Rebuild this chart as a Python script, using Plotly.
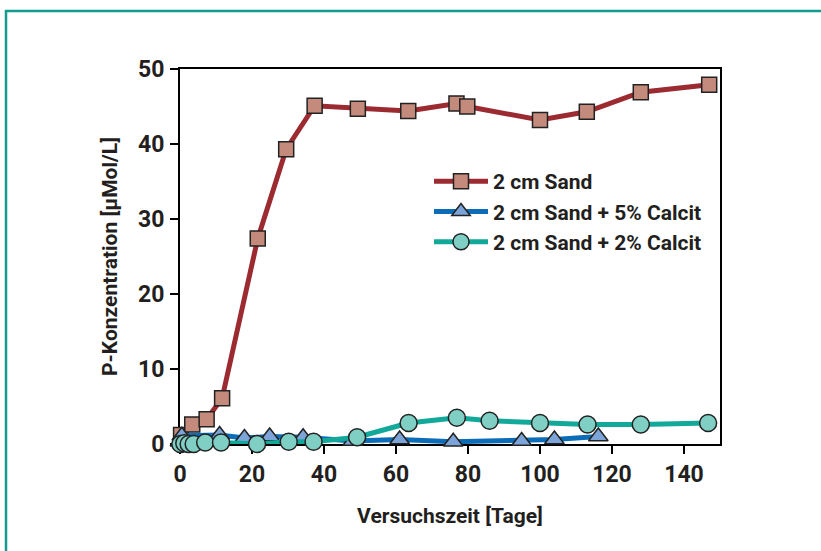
import plotly.graph_objects as go

# ---- data ----
sand_days = [0.3, 3.4, 7.4, 11.7, 21.6, 29.5, 37.4, 49.4, 63.4, 76.8, 79.8, 100, 113, 128, 147]
sand_p    = [1.2, 2.6, 3.3, 6.1, 27.4, 39.3, 45.1, 44.7, 44.4, 45.4, 45.0, 43.2, 44.3, 46.9, 47.9]

calc5_days = [0, 0.5, 11, 17.9, 24.9, 34.2, 48, 61, 75.9, 94.9, 104, 116.2]
calc5_p    = [0.3, 1.1, 1.2, 0.8, 1.0, 0.9, 0.4, 0.6, 0.3, 0.4, 0.6, 1.0]

calc2_days = [0.1, 1.2, 2.4, 3.8, 7.0, 11.4, 21.4, 30.2, 37.1, 49.2, 63.5, 76.9, 86, 100, 113.2, 128, 146.7]
calc2_p    = [0.0, 0.1, 0.0, 0.0, 0.2, 0.2, 0.0, 0.3, 0.3, 0.9, 2.8, 3.5, 3.1, 2.8, 2.6, 2.6, 2.8]

names = ["2 cm Sand", "2 cm Sand + 5% Calcit", "2 cm Sand + 2% Calcit"]
x_ticks = [0, 20, 40, 60, 80, 100, 120, 140]
y_ticks = [0, 10, 20, 30, 40, 50]

FONT = "Roboto, Liberation Sans, sans-serif"
TXT = "#231f20"

fig = go.Figure()
fig.add_trace(go.Scatter(
    x=sand_days, y=sand_p, name=names[0], mode="lines+markers",
    line=dict(color="#9b2a31", width=5),
    marker=dict(symbol="square", size=15, color="#c48a7b", line=dict(color="#222222", width=1.5)),
    cliponaxis=False))
fig.add_trace(go.Scatter(
    x=calc5_days, y=calc5_p, name=names[1], mode="lines+markers",
    line=dict(color="#0b6db7", width=5),
    marker=dict(symbol="triangle-up", size=17, color="#7ca4d8", line=dict(color="#222222", width=1.5)),
    cliponaxis=False))
fig.add_trace(go.Scatter(
    x=calc2_days, y=calc2_p, name=names[2], mode="lines+markers",
    line=dict(color="#12a99a", width=5),
    marker=dict(symbol="circle", size=17, color="#7fcfc5", line=dict(color="#222222", width=1.5)),
    cliponaxis=False))

W, H = 821, 551
L, R, T, B = 180, 101, 69, 107
pw, ph = W - L - R, H - T - B

def px_x(p):
    return (p - L) / pw

def px_y(p):
    return (H - B - p) / ph

# teal frame around the figure
fig.add_shape(type="rect", xref="paper", yref="paper",
              x0=px_x(6), x1=px_x(840), y0=px_y(570), y1=px_y(11),
              line=dict(color="#139b8d", width=2.5), fillcolor="rgba(0,0,0,0)", layer="below")

axis_common = dict(
    showline=True, linecolor="black", linewidth=2, mirror=True,
    ticks="outside", ticklen=8, tickwidth=2, tickcolor="black",
    showgrid=False, zeroline=False, layer="below traces",
    tickfont=dict(family=FONT, size=23, color=TXT, weight="bold"),
)

fig.update_layout(
    width=W, height=H,
    margin=dict(l=L, r=R, t=T, b=B),
    paper_bgcolor="white", plot_bgcolor="white",
    showlegend=True,
    legend=dict(x=px_x(429), y=px_y(161), xanchor="left", yanchor="top",
                font=dict(family=FONT, size=21, color=TXT, weight="bold"),
                bgcolor="rgba(0,0,0,0)", itemwidth=54, tracegroupgap=0),
    xaxis=dict(range=[0, 150], tickvals=x_ticks,
               title=dict(text="Versuchszeit [Tage]", standoff=22,
                          font=dict(family=FONT, size=21, color=TXT, weight="bold")),
               **axis_common),
    yaxis=dict(range=[0, 50], tickvals=y_ticks, ticklabelstandoff=1,
               title=dict(text="P-Konzentration [µMol/L]", standoff=15,
                          font=dict(family=FONT, size=21, color=TXT, weight="bold")),
               **axis_common),
)

fig.write_html("out.html", config={"displayModeBar": False},
               post_script="document.body.style.margin='0';document.body.style.overflow='hidden';")
